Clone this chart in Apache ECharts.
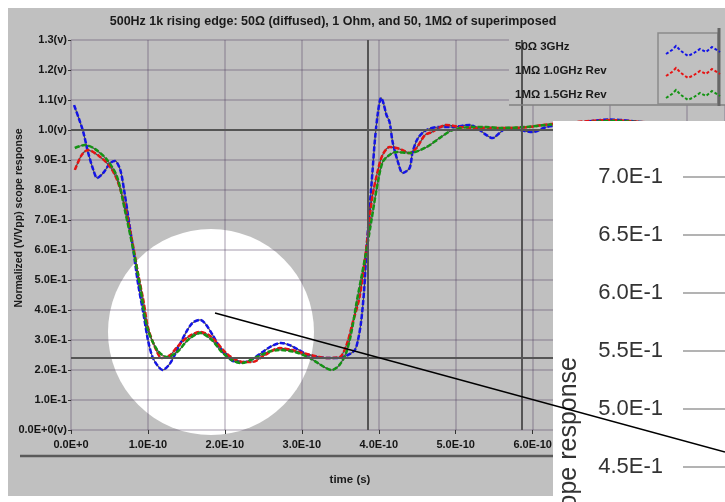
<!DOCTYPE html>
<html><head><meta charset="utf-8">
<script src="https://cdn.jsdelivr.net/npm/echarts@6/dist/echarts.min.js"></script>
<style>html,body{margin:0;padding:0;background:#fff}#c{width:725px;height:502px}</style>
</head><body><div id="c"></div>
<script>
// time in units of 1E-10 s, response in V (normalized)
const seriesNames = ['50Ω 3GHz', '1MΩ 1.0GHz Rev', '1MΩ 1.5GHz Rev'];
const seriesColors = ['#1414e6', '#e61414', '#149414'];
const blueData = [[0.04,1.083],[0.10,1.04],[0.16,0.993],[0.22,0.927],[0.29,0.867],[0.34,0.84],[0.42,0.857],[0.51,0.89],[0.57,0.897],[0.64,0.867],[0.69,0.80],[0.74,0.717],[0.81,0.60],[0.87,0.49],[0.94,0.39],[1.00,0.30],[1.06,0.243],[1.13,0.213],[1.19,0.20],[1.29,0.223],[1.39,0.273],[1.49,0.323],[1.58,0.357],[1.68,0.367],[1.75,0.353],[1.84,0.317],[1.94,0.273],[2.04,0.243],[2.14,0.227],[2.26,0.227],[2.38,0.24],[2.49,0.26],[2.61,0.28],[2.73,0.29],[2.84,0.283],[2.96,0.267],[3.08,0.25],[3.21,0.243],[3.34,0.24],[3.47,0.24],[3.60,0.25],[3.69,0.267],[3.73,0.30],[3.77,0.36],[3.81,0.467],[3.84,0.60],[3.88,0.733],[3.92,0.867],[3.95,0.967],[3.99,1.06],[4.03,1.107],[4.06,1.09],[4.10,1.05],[4.14,1.027],[4.18,0.96],[4.25,0.893],[4.31,0.857],[4.40,0.873],[4.44,0.927],[4.51,0.973],[4.62,1.0],[4.79,1.01],[4.96,1.01],[5.18,1.017],[5.31,1.0],[5.40,0.983],[5.48,0.973],[5.57,0.99],[5.66,1.007],[5.83,1.0],[6.00,0.993],[6.18,1.01],[6.5,1.02],[7.0,1.035],[7.5,1.025],[8.0,1.02],[8.5,1.02]];
const redData = [[0.05,0.867],[0.14,0.917],[0.22,0.933],[0.38,0.91],[0.51,0.877],[0.60,0.833],[0.68,0.767],[0.74,0.70],[0.81,0.61],[0.87,0.523],[0.94,0.433],[1.00,0.343],[1.09,0.277],[1.18,0.24],[1.29,0.25],[1.38,0.277],[1.52,0.31],[1.68,0.327],[1.81,0.313],[1.90,0.29],[2.00,0.26],[2.10,0.24],[2.23,0.227],[2.36,0.227],[2.52,0.25],[2.71,0.273],[2.87,0.267],[3.01,0.257],[3.17,0.247],[3.32,0.24],[3.49,0.243],[3.58,0.283],[3.66,0.357],[3.75,0.443],[3.84,0.61],[3.91,0.767],[3.99,0.867],[4.05,0.917],[4.14,0.943],[4.23,0.94],[4.31,0.933],[4.40,0.923],[4.49,0.94],[4.60,0.983],[4.69,0.993],[4.88,1.017],[5.05,1.01],[5.27,1.007],[5.48,1.007],[5.70,1.007],[5.96,1.01],[6.13,1.017],[6.5,1.025],[7.0,1.033],[7.5,1.025],[8.0,1.02],[8.5,1.02]];
const greenData = [[0.05,0.94],[0.18,0.95],[0.31,0.937],[0.47,0.90],[0.60,0.843],[0.70,0.733],[0.81,0.60],[0.90,0.477],[0.99,0.343],[1.12,0.267],[1.25,0.243],[1.38,0.26],[1.52,0.30],[1.68,0.323],[1.83,0.30],[1.96,0.26],[2.09,0.233],[2.22,0.223],[2.39,0.24],[2.56,0.26],[2.71,0.267],[2.91,0.26],[3.08,0.243],[3.21,0.223],[3.31,0.207],[3.39,0.20],[3.49,0.217],[3.58,0.26],[3.65,0.333],[3.71,0.423],[3.78,0.517],[3.84,0.60],[3.91,0.707],[3.97,0.80],[4.05,0.893],[4.14,0.917],[4.23,0.927],[4.40,0.923],[4.62,0.943],[4.79,0.973],[4.96,1.0],[5.22,1.01],[5.40,1.01],[5.57,1.007],[5.92,1.01],[6.18,1.017],[6.5,1.02],[7.0,1.03],[7.5,1.025],[8.0,1.02],[8.5,1.02]];
const cursorTimes = [3.86, 5.86];
const refLevels = [1.0, 0.243];
const xTickLabels = ['0.0E+0','1.0E-10','2.0E-10','3.0E-10','4.0E-10','5.0E-10','6.0E-10','7.0E-10','8.0E-10'];
const yTickLabels = ['0.0E+0(v)','1.0E-1','2.0E-1','3.0E-1','4.0E-1','5.0E-1','6.0E-1','7.0E-1','8.0E-1','9.0E-1','1.0(v)','1.1(v)','1.2(v)','1.3(v)'];
const insetTickLabels = ['4.5E-1','5.0E-1','5.5E-1','6.0E-1','6.5E-1','7.0E-1'];
const titleText = '500Hz 1k rising edge: 50Ω (diffused), 1 Ohm, and 50, 1MΩ of superimposed';
const xTitle = 'time (s)';
const yTitle = 'Normalized (V/Vpp) scope response';
const insetYTitle = 'Normalized scope response';

const allData = [blueData, redData, greenData];
const gridLineColor = 'rgba(80,60,95,0.26)';
const smallFont = {fontSize: 11, fontWeight: 'bold', color: '#151515', fontFamily: 'Liberation Sans'};
const zig = 'path://M0,9 L6,5 L10,1 L15,6 L22,11 L28,8 L34,4 L40,7 L46,2 L54,7';

const series = [];
allData.forEach((d, i) => {
  series.push({
    type: 'line', name: '_u' + i, data: d, smooth: 0.3, symbol: 'none', silent: true,
    xAxisIndex: 0, yAxisIndex: 0, z: 2,
    lineStyle: {color: '#4a4a4a', width: 1.2},
    markLine: i === 0 ? {
      silent: true, symbol: ['none', 'none'], label: {show: false},
      lineStyle: {color: '#555', width: 2, type: 'solid'},
      data: cursorTimes.map(t => ({xAxis: t})).concat(refLevels.map(v => ({yAxis: v})))
    } : undefined
  });
});
allData.forEach((d, i) => {
  series.push({
    type: 'line', name: seriesNames[i], data: d, smooth: 0.3, symbol: 'none',
    xAxisIndex: 0, yAxisIndex: 0, z: 3,
    lineStyle: {color: seriesColors[i], width: 2.5, type: [5, 2]}
  });
});

const chart = echarts.init(document.getElementById('c'), null, {renderer: 'canvas'});
chart.setOption({
  animation: false,
  backgroundColor: 'transparent',
  grid: [
    {left: 71, right: 0, top: 40, bottom: 72, outerBoundsMode: 'none', containLabel: false},
    {left: 683, right: 0, top: 119, bottom: -23, outerBoundsMode: 'none', containLabel: false}
  ],
  xAxis: [
    {type: 'value', gridIndex: 0, min: 0, max: 8.5, interval: 1,
     axisLine: {show: false},
     axisTick: {show: true, length: 4, lineStyle: {color: '#333', width: 1}},
     splitLine: {show: true, lineStyle: {color: gridLineColor, width: 2}},
     axisLabel: Object.assign({margin: 9, formatter: v => xTickLabels[Math.round(v)] || ''}, smallFont)},
    {type: 'value', gridIndex: 1, min: 0, max: 1, show: false}
  ],
  yAxis: [
    {type: 'value', gridIndex: 0, min: 0, max: 1.3, interval: 0.1,
     axisLine: {show: false},
     axisTick: {show: true, length: 3, lineStyle: {color: '#333', width: 1}},
     splitLine: {show: true, lineStyle: {color: gridLineColor, width: 2}},
     axisLabel: Object.assign({margin: 4, formatter: v => yTickLabels[Math.round(v * 10)] || ''}, smallFont)},
    {type: 'value', gridIndex: 1, min: 0.4, max: 0.75, interval: 0.05, z: 20,
     axisLine: {show: false}, axisTick: {show: false},
     splitLine: {show: true, showMinLine: false, showMaxLine: false, lineStyle: {color: '#9a9a9a', width: 1.5}},
     axisLabel: {margin: 20, showMinLabel: false, showMaxLabel: false, fontSize: 22, color: '#333', fontFamily: 'Liberation Sans',
       formatter: v => insetTickLabels[Math.round((v - 0.45) / 0.05)] || ''}}
  ],
  legend: {
    orient: 'vertical', left: 660, top: 40, itemWidth: 54, itemHeight: 14, itemGap: 10,
    selectedMode: false, z: 7, formatter: () => ' ',
    data: seriesNames.map((n, i) => ({name: n, icon: zig,
      itemStyle: {color: 'transparent', borderColor: seriesColors[i], borderWidth: 2, borderType: [3, 2]}}))
  },
  graphic: [
    {type: 'rect', z: -10, shape: {x: 8, y: 8, width: 717, height: 488}, style: {fill: '#c0c0c0'}},
    {type: 'circle', z: -5, shape: {cx: 211, cy: 332, r: 103}, style: {fill: '#ffffff'}},
    {type: 'text', z: 1, x: 333, y: 22, style: {text: titleText, align: 'center', verticalAlign: 'middle', font: 'bold 12.5px "Liberation Sans"', fill: '#1a1a1a'}},
    {type: 'text', z: 1, x: 350, y: 480, style: {text: xTitle, align: 'center', verticalAlign: 'middle', font: 'bold 11.5px "Liberation Sans"', fill: '#1a1a1a'}},
    {type: 'text', z: 1, x: 19, y: 218, rotation: Math.PI / 2, style: {text: yTitle, align: 'center', verticalAlign: 'middle', font: 'bold 10.5px "Liberation Sans"', fill: '#1a1a1a'}},
    {type: 'line', z: 1, shape: {x1: 20, y1: 456, x2: 553, y2: 456}, style: {stroke: '#5a5a5a', lineWidth: 2.5}},
    {type: 'rect', z: 5, shape: {x: 509, y: 28, width: 216, height: 77}, style: {fill: '#c0c0c0'}},
    {type: 'line', z: 6, shape: {x1: 509, y1: 105, x2: 725, y2: 105}, style: {stroke: '#808080', lineWidth: 1.5}},
    {type: 'rect', z: 6, shape: {x: 658, y: 33, width: 60, height: 71}, style: {fill: 'none', stroke: '#8a8a8a', lineWidth: 1.5}},
    {type: 'line', z: 6, shape: {x1: 719, y1: 28, x2: 719, y2: 106}, style: {stroke: '#666', lineWidth: 3}},
    ...seriesNames.map((n, i) => ({type: 'text', z: 7, x: 515, y: 47 + i * 24,
      style: {text: n, align: 'left', verticalAlign: 'middle', font: 'bold 11.5px "Liberation Sans"', fill: '#1a1a1a'}})),
    {type: 'rect', z: 10, shape: {x: 553, y: 121, width: 172, height: 381}, style: {fill: '#ffffff'}},
    {type: 'text', z: 21, x: 569, y: 357, rotation: Math.PI / 2, style: {text: insetYTitle, align: 'right', verticalAlign: 'middle', font: '25px "Liberation Sans"', fill: '#333'}},
    {type: 'line', z: 30, shape: {x1: 215, y1: 313, x2: 725, y2: 452}, style: {stroke: '#000', lineWidth: 1.6}}
  ],
  series: series
});
</script></body></html>
